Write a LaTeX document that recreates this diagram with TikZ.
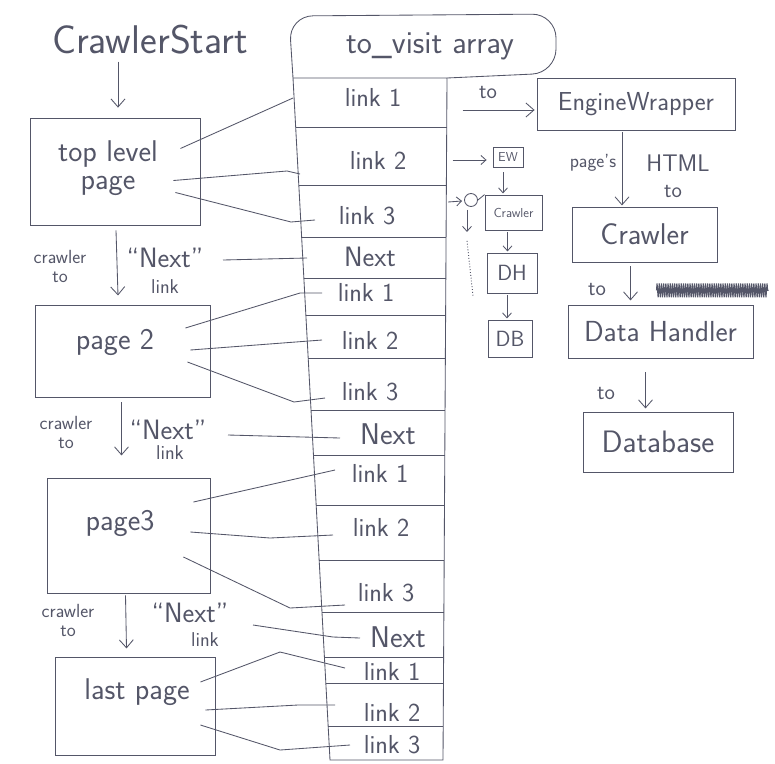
\documentclass[tikz,border=0pt]{standalone}
\usetikzlibrary{arrows.meta,calc,decorations.pathmorphing}
\definecolor{pencil}{RGB}{84,86,104}
\newcommand\fsz[1]{\fontsize{#1}{#1}\selectfont}
\begin{document}
\begin{tikzpicture}[x=1pt,y=-1pt,
  pen/.style={draw=pencil,line width=0.85pt},
  arr/.style={pen,-{Straight Barb[length=8pt,width=14pt]}},
  sarr/.style={pen,-{Straight Barb[length=5pt,width=9pt]}},
  box/.style={pen,rectangle,inner sep=0},
  t/.style={text=pencil,font=\sffamily,inner sep=0},
]
\useasboundingbox[fill=white] (0,0) rectangle (775,763);

% ---- title
\node[t,font={\sffamily\fsz{40}}] (cstart) at (150,40) {CrawlerStart};

% ---- page boxes
\node[box,minimum width=170,minimum height=107] (tp) at (115,171.5) {};
\node[box,minimum width=175,minimum height=92] (p2) at (122.5,351) {};
\node[box,minimum width=163,minimum height=115] (p3) at (128.5,535.5) {};
\node[box,minimum width=160,minimum height=98] (lp) at (135,706) {};
\node[t,font={\sffamily\fsz{30}},align=center] (tpt) at (108,168) {top level\\[-2pt]page};
\node[t,font={\sffamily\fsz{30}}] (p2t) at (115,342) {page 2};
\node[t,font={\sffamily\fsz{30}}] (p3t) at (120,523) {page3};
\node[t,font={\sffamily\fsz{30}}] (lpt) at (137,692) {last page};

% ---- vertical arrows between pages
\draw[arr] (tp.north) ++(3,-56) -- ++(0,46);
\draw[arr] (tp.south) ++(1,5) -- ++(2,65);
\draw[arr] (p2.south) ++(-1,5) -- ++(0,53);
\draw[arr] (p3.south) ++(-3,2) -- ++(1,53);

% ---- labels on the page arrows
\node[t,font={\sffamily\fsz{19}},align=center] (ct1) at (60,266) {crawler\\to};
\node[t,font={\sffamily\fsz{28}}] (nx1) at (165,258) {``Next''};
\node[t,font={\sffamily\fsz{20}}] (lk1) at (165,287) {link};
\node[t,font={\sffamily\fsz{19}},align=center] (ct2) at (66,432) {crawler\\to};
\node[t,font={\sffamily\fsz{28}}] (nx2) at (168,430) {``Next''};
\node[t,font={\sffamily\fsz{20}}] (lk2) at (170,453) {link};
\node[t,font={\sffamily\fsz{19}},align=center] (ct3) at (68,620) {crawler\\to};
\node[t,font={\sffamily\fsz{28}}] (nx3) at (190,613) {``Next''};
\node[t,font={\sffamily\fsz{20}}] (lk3) at (205,640) {link};

% ---- to_visit array (header blob merging into the column)
\draw[pen,rounded corners=24] (293,78) -- (289,16) -- (556,14) -- (556,73) -- (447,78);
\node[t,font={\sffamily\fsz{32}}] (hdrt) at (430,46) {to\_visit array};
\draw[pen,fill=white] (293,78) -- (447,78) -- (443,760) -- (330,760) -- cycle;
\foreach \yy in {127,185,237,278,315,358,410,455,505,560,612,657,683,726}{
  \draw[pen] ({293+(\yy-78)/682*37},\yy) -- ({447-(\yy-78)/682*4},\yy);
}
\foreach \nm/\lab/\xx/\yy/\sz in {
  r1/link 1/373/97/26, r2/link 2/378/160/26, r3/link 3/367/216/26, r4/Next/370/257/28,
  r5/link 1/366/292/26, r6/link 2/370/340/26, r7/link 3/370/392/26, r8/Next/388/434/30,
  r9/link 1/380/473/26, r10/link 2/381/527/26, r11/link 3/386/593/26, r12/Next/398/637/30,
  r13/link 1/392/671/26, r14/link 2/392/712/26, r15/link 3/392/745/26}{
  \node[t,font={\sffamily\fsz{\sz}}] (\nm) at (\xx,\yy) {\lab};
}

% ---- connectors page -> array rows
\draw[pen] (tp.east) ++(-20,-23) -- ($(r1)+(-80,1)$);
\draw[pen] (tp.east) ++(-27,9) -- ($(r2)+(-91,11)$) -- ($(r2)+(-78,14)$);
\draw[pen] (tp.east) ++(-25,21) -- ($(r3)+(-76,6)$) -- ($(r3)+(-52,4)$);
\draw[pen] (r4) ++(-147,3) -- ++(84,-2);
\draw[pen] (p2.east) ++(-25,-23) -- ($(r5)+(-66,1)$) -- ($(r5)+(-44,1)$);
\draw[pen] (p2.east) ++(-20,-1) -- ($(r6)+(-48,0)$);
\draw[pen] (p2.east) ++(-23,11) -- ($(r7)+(-76,10)$) -- ($(r7)+(-45,6)$);
\draw[pen] (r8) ++(-160,1) -- ++(112,3);
\draw[pen] (p3.east) ++(-17,-33.5) -- ($(r9)+(-45,-3)$);
\draw[pen] (p3.east) ++(-20,-3.5) -- ($(r10)+(-111,11)$) -- ($(r10)+(-48,8)$);
\draw[pen] (p3.east) ++(-27,21.5) -- ($(r11)+(-96,15)$) -- ($(r11)+(-41,12)$);
\draw[pen] (r12) ++(-145,-12) -- ++(80,12) -- ++(27,1);
\draw[pen] (lp.east) ++(-15,-24) -- ($(r13)+(-112,-19)$) -- ($(r13)+(-47,-3)$);
\draw[pen] (lp.east) ++(-10,4) -- ($(r14)+(-94,-7)$) -- ($(r14)+(-57,-7)$);
\draw[pen] (lp.east) ++(-15,19) -- ($(r15)+(-112,5)$) -- ($(r15)+(-42,0)$);

% ---- right-hand chain
\node[box,minimum width=198,minimum height=52,t,font={\sffamily\fsz{26}}] (ew) at (636,104) {EngineWrapper};
\node[box,minimum width=145,minimum height=55,t,font={\sffamily\fsz{30}}] (cr) at (644.5,234.5) {Crawler};
\node[box,minimum width=185,minimum height=53,t,font={\sffamily\fsz{29}}] (dh) at (660.5,331.5) {Data Handler};
\node[box,minimum width=150,minimum height=60,t,font={\sffamily\fsz{31}}] (db) at (658,442) {Database};

\draw[arr] (ew.west) ++(-74,6) -- ++(72,0);
\node[t,font={\sffamily\fsz{22}}] (to0) at (488,93) {to};
\draw[arr] (ew.south) ++(-14,2) -- ++(0,73);
\node[t,font={\sffamily\fsz{19}}] (pgs) at (593,163) {page's};
\node[t,font={\sffamily\fsz{24}}] (html) at (678,163) {HTML};
\node[t,font={\sffamily\fsz{22}}] (to1) at (673,192) {to};
\draw[arr] (cr.south) ++(-14,4) -- ++(0,34);
\node[t,font={\sffamily\fsz{22}}] (to2) at (597,289) {to};
\draw[pen,line width=1.1pt,decorate,decoration={zigzag,segment length=2.2pt,amplitude=7pt}] (cr.south) ++(12,28) -- ++(112,0);
\draw[arr] (dh.south) ++(-15,14) -- ++(0,36);
\node[t,font={\sffamily\fsz{22}}] (to3) at (606,393) {to};

% ---- small sketch
\node[box,minimum width=30,minimum height=20,t,font={\sffamily\fsz{13}}] (sew) at (508,157) {EW};
\node[box,minimum width=57,minimum height=35,t,font={\sffamily\fsz{13}}] (scr) at (513.5,212.5) {Crawler};
\node[box,minimum width=50,minimum height=40,t,font={\sffamily\fsz{22}}] (sdh) at (512,273) {DH};
\node[box,minimum width=44,minimum height=37,t,font={\sffamily\fsz{22}}] (sdb) at (510,338.5) {DB};
\node[pen,circle,minimum size=13,inner sep=0] (sc) at (471,200) {};
\draw[sarr] (sew.west) ++(-40,3) -- ++(34,0);
\draw[sarr] (sew.south) ++(-5,5) -- ++(0,21);
\draw[sarr] (sc.west) ++(-16,2) -- ++(14,-1);
\draw[pen] (sc.east) -- (scr.north west);
\draw[sarr] (sc.south) ++(-4,3) -- ++(0,22);
\draw[pen,dotted,line width=1pt] (sc.south) ++(-4,34) -- ++(6,55);
\draw[sarr] (scr.south) ++(-6,2) -- ++(0,19);
\draw[sarr] (sdh.south) ++(-5,2) -- ++(0,23);
\end{tikzpicture}
\end{document}
